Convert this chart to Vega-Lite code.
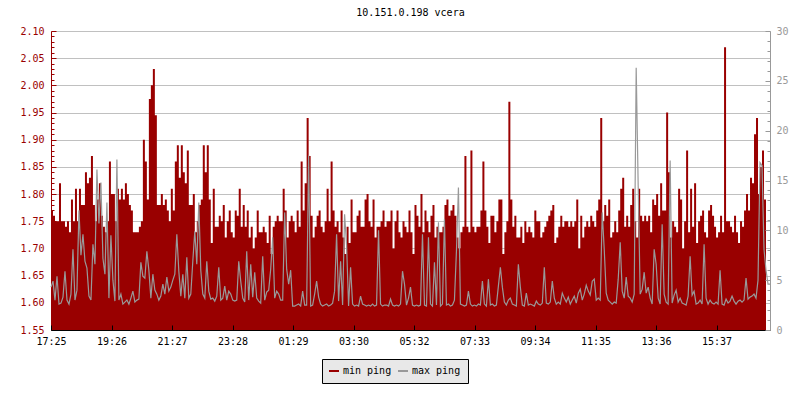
{
"$schema": "https://vega.github.io/schema/vega-lite/v6.json",
"width": 719,
"height": 299,
"autosize": {"type": "none"},
"padding": {"left": 51, "top": 31, "right": 30, "bottom": 70},
"background": "white",
"title": {"text": "10.151.0.198 vcera", "font": "DejaVu Sans Mono", "fontSize": 10, "fontWeight": "normal", "color": "black", "anchor": "middle", "offset": 8},
"config": {"view": {"stroke": null}, "font": "DejaVu Sans Mono"},
"data": {"values": [
{"m":0,"lo":1.77,"hi":4.3},{"m":4,"lo":1.76,"hi":4.9},{"m":8,"lo":1.75,"hi":3.0},{"m":12,"lo":1.75,"hi":5.4},{"m":16,"lo":1.82,"hi":2.6},{"m":20,"lo":1.75,"hi":2.7},{"m":24,"lo":1.75,"hi":3.3},{"m":28,"lo":1.74,"hi":5.9},{"m":32,"lo":1.75,"hi":3.0},{"m":36,"lo":1.73,"hi":2.6},
{"m":40,"lo":1.79,"hi":3.6},{"m":44,"lo":1.75,"hi":8.1},{"m":48,"lo":1.81,"hi":3.0},{"m":52,"lo":1.75,"hi":4.0},{"m":56,"lo":1.81,"hi":12.0},{"m":60,"lo":1.78,"hi":7.5},{"m":64,"lo":1.78,"hi":9.6},{"m":68,"lo":1.84,"hi":6.9},{"m":72,"lo":1.82,"hi":6.2},{"m":76,"lo":1.83,"hi":3.4},
{"m":80,"lo":1.87,"hi":3.0},{"m":84,"lo":1.78,"hi":8.6},{"m":88,"lo":1.75,"hi":6.6},{"m":92,"lo":1.79,"hi":16.1},{"m":96,"lo":1.82,"hi":10.7},{"m":100,"lo":1.76,"hi":14.8},{"m":104,"lo":1.74,"hi":7.2},{"m":108,"lo":1.73,"hi":5.6},{"m":112,"lo":1.75,"hi":12.8},{"m":116,"lo":1.86,"hi":3.2},
{"m":120,"lo":1.80,"hi":9.5},{"m":124,"lo":1.80,"hi":5.0},{"m":128,"lo":1.75,"hi":2.9},{"m":132,"lo":1.81,"hi":17.1},{"m":136,"lo":1.79,"hi":3.0},{"m":140,"lo":1.81,"hi":3.6},{"m":144,"lo":1.79,"hi":2.6},{"m":148,"lo":1.82,"hi":2.8},{"m":152,"lo":1.80,"hi":3.0},{"m":156,"lo":1.78,"hi":2.6},
{"m":160,"lo":1.77,"hi":3.2},{"m":164,"lo":1.73,"hi":3.9},{"m":168,"lo":1.73,"hi":2.8},{"m":172,"lo":1.73,"hi":3.0},{"m":176,"lo":1.74,"hi":3.1},{"m":180,"lo":1.75,"hi":6.8},{"m":184,"lo":1.90,"hi":5.4},{"m":188,"lo":1.86,"hi":5.2},{"m":192,"lo":1.79,"hi":7.9},{"m":196,"lo":1.975,"hi":6.0},
{"m":200,"lo":2.00,"hi":3.2},{"m":204,"lo":2.03,"hi":5.6},{"m":208,"lo":1.945,"hi":4.0},{"m":212,"lo":1.78,"hi":3.6},{"m":216,"lo":1.78,"hi":3.0},{"m":220,"lo":1.80,"hi":3.4},{"m":224,"lo":1.78,"hi":4.6},{"m":228,"lo":1.79,"hi":3.6},{"m":232,"lo":1.77,"hi":5.3},{"m":236,"lo":1.75,"hi":3.9},
{"m":240,"lo":1.81,"hi":4.3},{"m":244,"lo":1.77,"hi":5.0},{"m":248,"lo":1.86,"hi":5.6},{"m":252,"lo":1.89,"hi":9.6},{"m":256,"lo":1.83,"hi":5.9},{"m":260,"lo":1.89,"hi":3.4},{"m":264,"lo":1.84,"hi":5.6},{"m":268,"lo":1.82,"hi":3.2},{"m":272,"lo":1.88,"hi":7.3},{"m":276,"lo":1.78,"hi":3.2},
{"m":280,"lo":1.78,"hi":3.6},{"m":284,"lo":1.80,"hi":6.9},{"m":288,"lo":1.73,"hi":9.9},{"m":292,"lo":1.75,"hi":6.6},{"m":296,"lo":1.78,"hi":12.8},{"m":300,"lo":1.79,"hi":6.0},{"m":304,"lo":1.89,"hi":3.6},{"m":308,"lo":1.84,"hi":3.2},{"m":312,"lo":1.89,"hi":6.9},{"m":316,"lo":1.79,"hi":3.9},
{"m":320,"lo":1.71,"hi":3.1},{"m":324,"lo":1.81,"hi":3.2},{"m":328,"lo":1.74,"hi":2.9},{"m":332,"lo":1.74,"hi":3.4},{"m":336,"lo":1.76,"hi":6.3},{"m":340,"lo":1.75,"hi":3.0},{"m":344,"lo":1.78,"hi":3.2},{"m":348,"lo":1.72,"hi":4.4},{"m":352,"lo":1.75,"hi":3.0},{"m":356,"lo":1.77,"hi":3.9},
{"m":360,"lo":1.73,"hi":3.6},{"m":364,"lo":1.72,"hi":3.0},{"m":368,"lo":1.77,"hi":2.9},{"m":372,"lo":1.76,"hi":3.0},{"m":376,"lo":1.81,"hi":6.9},{"m":380,"lo":1.74,"hi":4.9},{"m":384,"lo":1.78,"hi":3.2},{"m":388,"lo":1.74,"hi":2.8},{"m":392,"lo":1.77,"hi":7.9},{"m":396,"lo":1.72,"hi":3.0},
{"m":400,"lo":1.74,"hi":6.6},{"m":404,"lo":1.70,"hi":3.3},{"m":408,"lo":1.72,"hi":5.8},{"m":412,"lo":1.77,"hi":3.2},{"m":416,"lo":1.73,"hi":2.9},{"m":420,"lo":1.73,"hi":2.7},{"m":424,"lo":1.74,"hi":7.4},{"m":428,"lo":1.73,"hi":3.0},{"m":432,"lo":1.71,"hi":3.8},{"m":436,"lo":1.76,"hi":4.0},
{"m":440,"lo":1.69,"hi":6.1},{"m":444,"lo":1.74,"hi":9.3},{"m":448,"lo":1.75,"hi":3.2},{"m":452,"lo":1.76,"hi":3.9},{"m":456,"lo":1.75,"hi":3.6},{"m":460,"lo":1.75,"hi":3.0},{"m":464,"lo":1.81,"hi":3.0},{"m":468,"lo":1.77,"hi":11.8},{"m":472,"lo":1.72,"hi":6.1},{"m":476,"lo":1.75,"hi":4.6},
{"m":480,"lo":1.76,"hi":6.0},{"m":484,"lo":1.75,"hi":2.4},{"m":488,"lo":1.73,"hi":2.4},{"m":492,"lo":1.77,"hi":2.5},{"m":496,"lo":1.74,"hi":2.6},{"m":500,"lo":1.86,"hi":2.4},{"m":504,"lo":1.77,"hi":3.9},{"m":508,"lo":1.82,"hi":2.5},{"m":512,"lo":1.94,"hi":2.5},{"m":516,"lo":1.87,"hi":17.5},
{"m":520,"lo":1.76,"hi":2.4},{"m":524,"lo":1.72,"hi":2.5},{"m":528,"lo":1.74,"hi":3.6},{"m":532,"lo":1.76,"hi":4.9},{"m":536,"lo":1.77,"hi":3.3},{"m":540,"lo":1.74,"hi":2.6},{"m":544,"lo":1.73,"hi":2.4},{"m":548,"lo":1.75,"hi":2.5},{"m":552,"lo":1.81,"hi":2.6},{"m":556,"lo":1.75,"hi":2.4},
{"m":560,"lo":1.86,"hi":2.5},{"m":564,"lo":1.77,"hi":2.7},{"m":568,"lo":1.74,"hi":3.9},{"m":572,"lo":1.75,"hi":9.6},{"m":576,"lo":1.73,"hi":2.9},{"m":580,"lo":1.77,"hi":6.9},{"m":584,"lo":1.72,"hi":2.5},{"m":588,"lo":1.69,"hi":11.6},{"m":592,"lo":1.74,"hi":8.5},{"m":596,"lo":1.71,"hi":2.4},
{"m":600,"lo":1.79,"hi":6.3},{"m":604,"lo":1.73,"hi":2.6},{"m":608,"lo":1.73,"hi":2.4},{"m":612,"lo":1.76,"hi":2.5},{"m":616,"lo":1.77,"hi":2.4},{"m":620,"lo":1.74,"hi":3.4},{"m":624,"lo":1.74,"hi":2.6},{"m":628,"lo":1.79,"hi":2.5},{"m":632,"lo":1.80,"hi":2.4},{"m":636,"lo":1.75,"hi":2.5},
{"m":640,"lo":1.74,"hi":2.4},{"m":644,"lo":1.79,"hi":2.6},{"m":648,"lo":1.72,"hi":2.4},{"m":652,"lo":1.74,"hi":2.5},{"m":656,"lo":1.74,"hi":10.0},{"m":660,"lo":1.75,"hi":2.6},{"m":664,"lo":1.77,"hi":2.4},{"m":668,"lo":1.74,"hi":2.5},{"m":672,"lo":1.75,"hi":2.5},{"m":676,"lo":1.75,"hi":2.4},
{"m":680,"lo":1.77,"hi":3.1},{"m":684,"lo":1.70,"hi":2.5},{"m":688,"lo":1.75,"hi":2.4},{"m":692,"lo":1.77,"hi":2.5},{"m":696,"lo":1.73,"hi":2.4},{"m":700,"lo":1.72,"hi":2.6},{"m":704,"lo":1.75,"hi":5.9},{"m":708,"lo":1.74,"hi":4.6},{"m":712,"lo":1.73,"hi":2.5},{"m":716,"lo":1.77,"hi":3.2},
{"m":720,"lo":1.73,"hi":4.3},{"m":724,"lo":1.69,"hi":2.5},{"m":728,"lo":1.78,"hi":2.4},{"m":732,"lo":1.76,"hi":2.5},{"m":736,"lo":1.74,"hi":2.4},{"m":740,"lo":1.80,"hi":2.5},{"m":744,"lo":1.73,"hi":9.6},{"m":748,"lo":1.77,"hi":2.5},{"m":752,"lo":1.75,"hi":2.4},{"m":756,"lo":1.73,"hi":9.3},
{"m":760,"lo":1.76,"hi":2.6},{"m":764,"lo":1.78,"hi":2.4},{"m":768,"lo":1.72,"hi":6.8},{"m":772,"lo":1.74,"hi":2.5},{"m":776,"lo":1.73,"hi":10.8},{"m":780,"lo":1.73,"hi":2.4},{"m":784,"lo":1.74,"hi":2.6},{"m":788,"lo":1.78,"hi":11.1},{"m":792,"lo":1.79,"hi":2.5},{"m":796,"lo":1.76,"hi":2.6},
{"m":800,"lo":1.77,"hi":2.4},{"m":804,"lo":1.78,"hi":2.5},{"m":808,"lo":1.76,"hi":3.0},{"m":812,"lo":1.72,"hi":7.9},{"m":816,"lo":1.70,"hi":14.3},{"m":820,"lo":1.73,"hi":2.6},{"m":824,"lo":1.74,"hi":2.5},{"m":828,"lo":1.87,"hi":2.4},{"m":832,"lo":1.74,"hi":2.5},{"m":836,"lo":1.73,"hi":3.9},
{"m":840,"lo":1.88,"hi":2.6},{"m":844,"lo":1.74,"hi":2.4},{"m":848,"lo":1.73,"hi":2.5},{"m":852,"lo":1.74,"hi":2.4},{"m":856,"lo":1.74,"hi":2.6},{"m":860,"lo":1.77,"hi":2.5},{"m":864,"lo":1.86,"hi":4.9},{"m":868,"lo":1.77,"hi":2.6},{"m":872,"lo":1.74,"hi":2.4},{"m":876,"lo":1.71,"hi":5.1},
{"m":880,"lo":1.76,"hi":2.5},{"m":884,"lo":1.76,"hi":2.6},{"m":888,"lo":1.73,"hi":2.4},{"m":892,"lo":1.75,"hi":2.5},{"m":896,"lo":1.79,"hi":4.4},{"m":900,"lo":1.79,"hi":6.3},{"m":904,"lo":1.69,"hi":4.3},{"m":908,"lo":1.73,"hi":2.8},{"m":912,"lo":1.75,"hi":2.5},{"m":916,"lo":1.97,"hi":3.0},
{"m":920,"lo":1.79,"hi":3.2},{"m":924,"lo":1.74,"hi":2.6},{"m":928,"lo":1.76,"hi":2.5},{"m":932,"lo":1.72,"hi":2.4},{"m":936,"lo":1.72,"hi":6.6},{"m":940,"lo":1.74,"hi":4.3},{"m":944,"lo":1.71,"hi":2.5},{"m":948,"lo":1.75,"hi":2.4},{"m":952,"lo":1.73,"hi":3.7},{"m":956,"lo":1.74,"hi":2.5},
{"m":960,"lo":1.73,"hi":2.6},{"m":964,"lo":1.72,"hi":2.5},{"m":968,"lo":1.77,"hi":2.4},{"m":972,"lo":1.75,"hi":2.9},{"m":976,"lo":1.75,"hi":2.6},{"m":980,"lo":1.72,"hi":2.5},{"m":984,"lo":1.73,"hi":2.7},{"m":988,"lo":1.74,"hi":6.3},{"m":992,"lo":1.75,"hi":2.7},{"m":996,"lo":1.76,"hi":2.6},
{"m":1000,"lo":1.77,"hi":2.8},{"m":1004,"lo":1.78,"hi":4.9},{"m":1008,"lo":1.71,"hi":3.2},{"m":1012,"lo":1.72,"hi":2.6},{"m":1016,"lo":1.74,"hi":2.8},{"m":1020,"lo":1.76,"hi":2.6},{"m":1024,"lo":1.74,"hi":3.7},{"m":1028,"lo":1.75,"hi":3.2},{"m":1032,"lo":1.75,"hi":2.8},{"m":1036,"lo":1.74,"hi":3.3},
{"m":1040,"lo":1.75,"hi":2.6},{"m":1044,"lo":1.74,"hi":3.0},{"m":1048,"lo":1.75,"hi":3.4},{"m":1052,"lo":1.79,"hi":2.7},{"m":1056,"lo":1.70,"hi":3.7},{"m":1060,"lo":1.76,"hi":4.1},{"m":1064,"lo":1.72,"hi":3.0},{"m":1068,"lo":1.74,"hi":3.6},{"m":1072,"lo":1.75,"hi":4.5},{"m":1076,"lo":1.74,"hi":3.9},
{"m":1080,"lo":1.76,"hi":3.5},{"m":1084,"lo":1.75,"hi":4.9},{"m":1088,"lo":1.74,"hi":5.1},{"m":1092,"lo":1.77,"hi":3.0},{"m":1096,"lo":1.79,"hi":3.2},{"m":1100,"lo":1.94,"hi":3.0},{"m":1104,"lo":1.75,"hi":11.8},{"m":1108,"lo":1.78,"hi":8.1},{"m":1112,"lo":1.76,"hi":3.7},{"m":1116,"lo":1.79,"hi":3.0},
{"m":1120,"lo":1.72,"hi":2.8},{"m":1124,"lo":1.73,"hi":2.6},{"m":1128,"lo":1.75,"hi":2.8},{"m":1132,"lo":1.73,"hi":2.7},{"m":1136,"lo":1.77,"hi":5.1},{"m":1140,"lo":1.81,"hi":8.8},{"m":1144,"lo":1.83,"hi":3.9},{"m":1148,"lo":1.74,"hi":3.2},{"m":1152,"lo":1.76,"hi":5.3},{"m":1156,"lo":1.74,"hi":3.4},
{"m":1160,"lo":1.78,"hi":3.2},{"m":1164,"lo":1.81,"hi":2.8},{"m":1168,"lo":1.75,"hi":3.6},{"m":1172,"lo":1.72,"hi":26.3},{"m":1176,"lo":1.81,"hi":14.5},{"m":1180,"lo":1.76,"hi":3.6},{"m":1184,"lo":1.75,"hi":4.1},{"m":1188,"lo":1.76,"hi":5.8},{"m":1192,"lo":1.75,"hi":3.7},{"m":1196,"lo":1.76,"hi":4.3},
{"m":1200,"lo":1.73,"hi":3.2},{"m":1204,"lo":1.79,"hi":2.6},{"m":1208,"lo":1.78,"hi":8.1},{"m":1212,"lo":1.80,"hi":6.6},{"m":1216,"lo":1.76,"hi":3.2},{"m":1220,"lo":1.82,"hi":2.6},{"m":1224,"lo":1.77,"hi":10.6},{"m":1228,"lo":1.77,"hi":3.6},{"m":1232,"lo":1.95,"hi":2.8},{"m":1236,"lo":1.84,"hi":2.6},
{"m":1240,"lo":1.72,"hi":17.0},{"m":1244,"lo":1.75,"hi":2.7},{"m":1248,"lo":1.74,"hi":3.5},{"m":1252,"lo":1.73,"hi":4.0},{"m":1256,"lo":1.81,"hi":2.8},{"m":1260,"lo":1.79,"hi":3.2},{"m":1264,"lo":1.70,"hi":2.7},{"m":1268,"lo":1.75,"hi":2.6},{"m":1272,"lo":1.88,"hi":2.5},{"m":1276,"lo":1.73,"hi":3.4},
{"m":1280,"lo":1.81,"hi":7.4},{"m":1284,"lo":1.74,"hi":3.5},{"m":1288,"lo":1.82,"hi":3.9},{"m":1292,"lo":1.71,"hi":2.6},{"m":1296,"lo":1.75,"hi":2.7},{"m":1300,"lo":1.76,"hi":3.0},{"m":1304,"lo":1.77,"hi":2.6},{"m":1308,"lo":1.73,"hi":8.6},{"m":1312,"lo":1.72,"hi":3.2},{"m":1316,"lo":1.77,"hi":2.6},
{"m":1320,"lo":1.78,"hi":3.0},{"m":1324,"lo":1.76,"hi":2.7},{"m":1328,"lo":1.74,"hi":2.6},{"m":1332,"lo":1.72,"hi":2.8},{"m":1336,"lo":1.73,"hi":2.6},{"m":1340,"lo":1.76,"hi":6.0},{"m":1344,"lo":1.73,"hi":2.6},{"m":1348,"lo":2.07,"hi":2.5},{"m":1352,"lo":1.75,"hi":3.1},{"m":1356,"lo":1.75,"hi":2.7},
{"m":1360,"lo":1.74,"hi":2.9},{"m":1364,"lo":1.73,"hi":3.4},{"m":1368,"lo":1.76,"hi":2.9},{"m":1372,"lo":1.73,"hi":2.6},{"m":1376,"lo":1.71,"hi":2.9},{"m":1380,"lo":1.75,"hi":3.0},{"m":1384,"lo":1.74,"hi":2.8},{"m":1388,"lo":1.77,"hi":3.0},{"m":1392,"lo":1.80,"hi":5.2},{"m":1396,"lo":1.77,"hi":3.1},
{"m":1400,"lo":1.83,"hi":3.3},{"m":1404,"lo":1.82,"hi":3.4},{"m":1408,"lo":1.91,"hi":3.6},{"m":1412,"lo":1.94,"hi":3.2},{"m":1416,"lo":1.80,"hi":5.0},{"m":1420,"lo":1.85,"hi":16.8},{"m":1424,"lo":1.88,"hi":16.5},{"m":1428,"lo":1.79,"hi":8.1},{"m":1432,"lo":1.78,"hi":6.0},{"m":1436,"lo":null,"hi":4.6},
{"m":1440,"lo":null,"hi":4.6}
]},
"layer": [
{
"mark": {"type": "area", "interpolate": "step-after"},
"encoding": {
"x": {"field": "m", "type": "quantitative", "scale": {"domain": [0, 1440], "nice": false, "zero": false},
"axis": {"title": null, "grid": false, "values": [0, 121.175, 242.35, 363.525, 484.7, 605.875, 727.05, 848.225, 969.4, 1090.575, 1211.75, 1332.925],
"labelExpr": "timeFormat(datetime(2000,0,1,17,25,floor(datum.value*60)),'%H:%M')",
"labelFont": "DejaVu Sans Mono", "labelFontSize": 10, "labelColor": "black", "labelFlush": false, "labelOverlap": false,
"tickSize": -5, "tickColor": "black", "domainColor": "black", "labelPadding": 11, "zindex": 1}},
"y": {"field": "lo", "type": "quantitative", "scale": {"domain": [1.55, 2.1], "nice": false, "zero": false},
"axis": {"title": null, "orient": "left",
"values": [1.55,1.56,1.57,1.58,1.59,1.6,1.61,1.62,1.63,1.64,1.65,1.66,1.67,1.68,1.69,1.7,1.71,1.72,1.73,1.74,1.75,1.76,1.77,1.78,1.79,1.8,1.81,1.82,1.83,1.84,1.85,1.86,1.87,1.88,1.89,1.9,1.91,1.92,1.93,1.94,1.95,1.96,1.97,1.98,1.99,2.0,2.01,2.02,2.03,2.04,2.05,2.06,2.07,2.08,2.09,2.1],
"labelExpr": "abs(datum.value*20-round(datum.value*20))<0.01 ? format(datum.value,'.2f') : ''",
"labelOverlap": false, "labelFlush": false,
"labelFont": "DejaVu Sans Mono", "labelFontSize": 10, "labelColor": "#990000",
"grid": true, "gridColor": "#c0c0c0",
"gridOpacity": {"condition": {"test": "abs(datum.value*20-round(datum.value*20))<0.01", "value": 1}, "value": 0},
"tickSize": {"condition": {"test": "abs(datum.value*20-round(datum.value*20))<0.01", "value": -5}, "value": -3},
"tickColor": "#990000", "domainColor": "#990000", "labelPadding": 12}},
"y2": {"datum": 1.55},
"color": {"datum": "min ping", "type": "nominal", "scale": {"domain": ["min ping", "max ping"], "range": ["#990000", "#999999"]},
"legend": {"title": null, "orient": "none", "legendX": 271, "legendY": 328, "direction": "horizontal",
"fillColor": "#e8e8e8", "strokeColor": "black", "padding": 7,
"symbolType": "M-1,-0.2H1V0.2H-1Z", "symbolSize": 100, "symbolStrokeWidth": 0,
"labelExpr": "datum.label == 'max ping' ? 'max ping\u00a0' : datum.label",
"labelFont": "DejaVu Sans Mono", "labelFontSize": 10, "labelColor": "black", "labelOffset": 4, "columnPadding": 6}}
}
},
{
"mark": {"type": "line", "interpolate": "linear", "strokeWidth": 1.2},
"encoding": {
"x": {"field": "m", "type": "quantitative"},
"y": {"field": "hi", "type": "quantitative", "scale": {"domain": [0, 30], "nice": false, "zero": false},
"axis": {"title": null, "orient": "right", "grid": false,
"values": [0,1,2,3,4,5,6,7,8,9,10,11,12,13,14,15,16,17,18,19,20,21,22,23,24,25,26,27,28,29,30],
"labelExpr": "datum.value % 5 == 0 ? datum.label : ''",
"labelOverlap": false, "labelFlush": false,
"labelFont": "DejaVu Sans Mono", "labelFontSize": 10, "labelColor": "#999999",
"tickSize": {"condition": {"test": "datum.value % 5 == 0", "value": -5}, "value": -3},
"tickColor": "#999999", "domainColor": "#999999", "labelPadding": 11, "zindex": 1}},
"color": {"datum": "max ping", "type": "nominal"}
}
}
],
"resolve": {"scale": {"y": "independent"}}
}
